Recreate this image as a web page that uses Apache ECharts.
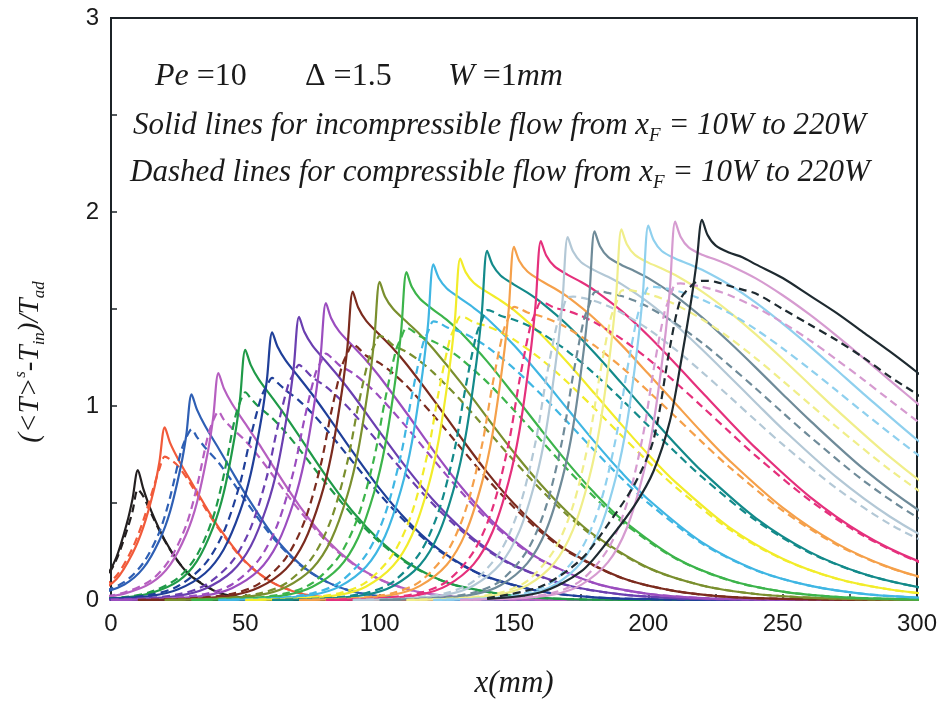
<!DOCTYPE html>
<html>
<head>
<meta charset="utf-8">
<script src="https://cdn.jsdelivr.net/npm/echarts/dist/echarts.min.js"></script>
<style>html,body{margin:0;padding:0;background:#fff}#c{width:942px;height:704px}</style>
</head>
<body>
<div id="c"></div>
<script>
// x offsets (mm) relative to each flame position x_F
const offsets = [-80,-60,-45,-35,-25,-18,-12,-8,-4,-2,0,2,5,10,15,20,30,40,50,60,70,80,100,120,140,160,180,200,240,290];
const flamePositions = [10,20,30,40,50,60,70,80,90,100,110,120,130,140,150,160,170,180,190,200,210,220];
const lineColors = ['#231f20','#f15a3a','#2e5fb4','#b65fc0','#1f9a48','#1f3f99','#6a3fb0','#9b4dbf','#7b2b1e','#7a8f2e','#3cb44b','#3fb6e3','#f2ec2a','#138a8a','#f5a04a','#e5307c','#b3c8d6','#6f8b99','#f0ee8a','#8fd0ee','#d69bd0','#1e2a30'];
const xTicks = [0,50,100,150,200,250,300];
const yTicks = [0,1,2,3];

// incompressible flow (solid lines)
const solid10  = [0,0,0,0.003,0.013,0.047,0.12,0.22,0.40,0.52,0.67,0.574,0.458,0.309,0.198,0.12,0.038,0.01,0.002,0,0,0,0,0,0,0,0,0,0,0];
const solid20  = [0,0,0.004,0.013,0.045,0.107,0.24,0.374,0.57,0.71,0.89,0.81,0.726,0.605,0.487,0.376,0.198,0.091,0.036,0.013,0.004,0.001,0,0,0,0,0,0,0,0];
const solid30  = [0,0.002,0.011,0.03,0.08,0.164,0.307,0.456,0.689,0.848,1.06,0.981,0.898,0.782,0.664,0.547,0.339,0.189,0.096,0.044,0.019,0.008,0.001,0,0,0,0,0,0,0];
const solid40  = [0,0.002,0.012,0.033,0.088,0.181,0.339,0.503,0.76,0.936,1.17,1.091,1.013,0.909,0.806,0.697,0.488,0.315,0.19,0.107,0.057,0.028,0.006,0.001,0,0,0,0,0,0];
const solid50  = [0,0.003,0.013,0.036,0.097,0.2,0.374,0.555,0.839,1.032,1.29,1.212,1.137,1.043,0.948,0.846,0.64,0.455,0.307,0.196,0.119,0.07,0.021,0.005,0.001,0,0,0,0,0];
const solid60  = [0,0.006,0.021,0.055,0.138,0.262,0.455,0.649,0.938,1.132,1.38,1.305,1.235,1.147,1.058,0.962,0.763,0.574,0.412,0.283,0.188,0.119,0.044,0.014,0.004,0.001,0,0,0,0];
const solid70  = [0,0.006,0.022,0.058,0.146,0.277,0.482,0.686,0.993,1.197,1.46,1.381,1.311,1.229,1.147,1.058,0.867,0.681,0.514,0.374,0.263,0.179,0.076,0.029,0.01,0.003,0.001,0,0,0];
const solid80  = [0,0.006,0.023,0.061,0.153,0.291,0.505,0.719,1.04,1.255,1.53,1.451,1.383,1.309,1.235,1.151,0.964,0.77,0.589,0.432,0.306,0.208,0.087,0.032,0.01,0.003,0.001,0,0,0];
const solid90  = [0,0.006,0.024,0.064,0.159,0.302,0.525,0.747,1.081,1.304,1.59,1.508,1.439,1.367,1.296,1.215,1.033,0.842,0.658,0.496,0.361,0.254,0.115,0.046,0.016,0.006,0.002,0,0,0];
const solid100 = [0,0.007,0.025,0.066,0.164,0.312,0.541,0.771,1.115,1.345,1.64,1.563,1.501,1.434,1.369,1.294,1.124,0.94,0.76,0.595,0.451,0.333,0.166,0.075,0.031,0.012,0.004,0.001,0,0];
const solid110 = [0,0.007,0.025,0.068,0.169,0.321,0.558,0.794,1.149,1.386,1.69,1.613,1.553,1.496,1.444,1.381,1.23,1.057,0.879,0.707,0.551,0.417,0.218,0.103,0.043,0.016,0.006,0.002,0,0];
const solid120 = [0,0.007,0.026,0.069,0.173,0.329,0.571,0.813,1.176,1.419,1.73,1.66,1.606,1.555,1.506,1.451,1.313,1.153,0.983,0.815,0.658,0.518,0.297,0.155,0.074,0.032,0.013,0.005,0,0];
const solid130 = [0,0.007,0.026,0.07,0.176,0.334,0.581,0.827,1.197,1.443,1.76,1.69,1.635,1.587,1.544,1.494,1.37,1.223,1.064,0.904,0.75,0.609,0.376,0.213,0.111,0.054,0.024,0.01,0.002,0];
const solid140 = [0,0.007,0.027,0.072,0.18,0.342,0.594,0.846,1.224,1.476,1.8,1.728,1.673,1.626,1.584,1.535,1.416,1.273,1.118,0.959,0.806,0.663,0.422,0.248,0.135,0.068,0.032,0.014,0.002,0];
const solid150 = [0,0.007,0.027,0.073,0.182,0.346,0.601,0.855,1.238,1.492,1.82,1.747,1.693,1.646,1.607,1.562,1.45,1.315,1.166,1.014,0.863,0.721,0.476,0.292,0.167,0.089,0.045,0.021,0.004,0];
const solid160 = [0,0.007,0.028,0.074,0.185,0.352,0.611,0.87,1.258,1.517,1.85,1.776,1.721,1.676,1.639,1.596,1.49,1.362,1.219,1.071,0.924,0.783,0.533,0.339,0.203,0.114,0.06,0.03,0.006,0.001];
const solid170 = [0,0.007,0.028,0.075,0.187,0.355,0.617,0.879,1.272,1.533,1.87,1.796,1.741,1.699,1.666,1.628,1.534,1.42,1.291,1.155,1.017,0.881,0.633,0.429,0.275,0.167,0.096,0.053,0.014,0.002];
const solid180 = [0,0.008,0.029,0.076,0.19,0.361,0.627,0.893,1.292,1.558,1.9,1.824,1.769,1.727,1.695,1.659,1.568,1.457,1.331,1.198,1.061,0.927,0.677,0.469,0.308,0.192,0.114,0.064,0.018,0.003];
const solid190 = [0,0.008,0.029,0.076,0.191,0.363,0.63,0.898,1.299,1.566,1.91,1.834,1.779,1.739,1.709,1.675,1.59,1.487,1.369,1.242,1.111,0.981,0.736,0.524,0.356,0.231,0.143,0.085,0.026,0.005];
const solid200 = [0,0.008,0.029,0.077,0.193,0.367,0.637,0.907,1.312,1.583,1.93,1.854,1.799,1.76,1.732,1.702,1.626,1.533,1.425,1.309,1.187,1.064,0.826,0.613,0.437,0.298,0.196,0.123,0.044,0.01];
const solid210 = [0,0.008,0.029,0.078,0.195,0.371,0.644,0.917,1.326,1.599,1.95,1.873,1.818,1.78,1.755,1.727,1.658,1.571,1.472,1.363,1.248,1.131,0.901,0.689,0.507,0.361,0.247,0.163,0.064,0.017];
const solid220 = [0.006,0.04,0.147,0.304,0.49,0.666,0.921,1.215,1.548,1.744,1.96,1.883,1.828,1.791,1.767,1.73,1.66,1.57,1.48,1.38,1.28,1.174,0.95,0.74,0.557,0.40,0.28,0.19,0.08,0.02];

// compressible flow (dashed lines)
const dashed10  = [0,0,0,0.003,0.012,0.044,0.114,0.208,0.362,0.456,0.57,0.535,0.445,0.305,0.198,0.122,0.04,0.011,0.002,0,0,0,0,0,0,0,0,0,0,0];
const dashed20  = [0,0,0.005,0.016,0.052,0.125,0.267,0.409,0.587,0.676,0.739,0.725,0.69,0.59,0.475,0.368,0.196,0.091,0.037,0.013,0.004,0.001,0,0,0,0,0,0,0,0];
const dashed30  = [0,0.003,0.013,0.035,0.093,0.191,0.35,0.53,0.763,0.837,0.88,0.84,0.786,0.709,0.614,0.513,0.326,0.185,0.095,0.044,0.019,0.008,0.001,0,0,0,0,0,0,0];
const dashed40  = [0,0.004,0.014,0.039,0.103,0.211,0.386,0.585,0.842,0.924,0.971,0.93,0.886,0.821,0.739,0.647,0.464,0.305,0.186,0.106,0.056,0.028,0.006,0.001,0,0,0,0,0,0];
const dashed50  = [0,0.004,0.015,0.043,0.114,0.232,0.426,0.645,0.929,1.019,1.071,1.04,0.996,0.938,0.864,0.779,0.602,0.436,0.298,0.192,0.118,0.069,0.021,0.005,0.001,0,0,0,0,0];
const dashed60  = [0.001,0.007,0.028,0.072,0.186,0.352,0.60,0.842,1.049,1.104,1.145,1.12,1.082,1.028,0.96,0.882,0.712,0.545,0.397,0.276,0.185,0.118,0.044,0.014,0.004,0.001,0,0,0,0];
const dashed70  = [0.001,0.007,0.029,0.076,0.197,0.372,0.635,0.891,1.11,1.168,1.212,1.19,1.148,1.10,1.038,0.966,0.805,0.643,0.492,0.362,0.257,0.176,0.075,0.029,0.01,0.003,0.001,0,0,0];
const dashed80  = [0.001,0.008,0.031,0.08,0.207,0.39,0.666,0.933,1.163,1.224,1.27,1.25,1.21,1.17,1.114,1.047,0.891,0.724,0.562,0.417,0.299,0.205,0.086,0.032,0.01,0.003,0.001,0,0,0];
const dashed90  = [0.001,0.008,0.032,0.083,0.215,0.405,0.692,0.97,1.208,1.272,1.32,1.30,1.259,1.221,1.168,1.104,0.952,0.788,0.625,0.477,0.351,0.249,0.114,0.046,0.016,0.006,0.002,0,0,0];
const dashed100 = [0.001,0.008,0.033,0.085,0.221,0.418,0.713,1.0,1.246,1.312,1.361,1.35,1.314,1.279,1.231,1.172,1.032,0.875,0.718,0.569,0.436,0.325,0.164,0.075,0.031,0.012,0.004,0.001,0,0];
const dashed110 = [0.001,0.008,0.034,0.088,0.228,0.431,0.735,1.031,1.284,1.352,1.403,1.39,1.359,1.333,1.295,1.246,1.123,0.978,0.824,0.672,0.529,0.405,0.215,0.102,0.043,0.016,0.006,0.002,0,0];
const dashed120 = [0.001,0.009,0.035,0.09,0.234,0.441,0.753,1.055,1.315,1.384,1.436,1.43,1.406,1.383,1.348,1.305,1.193,1.061,0.916,0.769,0.628,0.499,0.291,0.153,0.074,0.032,0.013,0.005,0,0];
const dashed130 = [0.001,0.009,0.035,0.092,0.238,0.449,0.766,1.074,1.338,1.408,1.461,1.455,1.432,1.411,1.381,1.342,1.242,1.121,0.987,0.848,0.712,0.584,0.366,0.21,0.11,0.054,0.024,0.01,0.002,0];
const dashed140 = [0.001,0.009,0.036,0.094,0.243,0.459,0.783,1.098,1.368,1.44,1.494,1.487,1.465,1.445,1.416,1.378,1.282,1.165,1.035,0.898,0.763,0.634,0.41,0.244,0.134,0.068,0.032,0.014,0.002,0];
const dashed150 = [0.001,0.009,0.036,0.095,0.246,0.464,0.792,1.11,1.383,1.456,1.511,1.503,1.482,1.463,1.436,1.401,1.311,1.201,1.076,0.946,0.814,0.687,0.461,0.286,0.165,0.088,0.045,0.021,0.004,0];
const dashed160 = [0.001,0.009,0.037,0.096,0.25,0.472,0.805,1.129,1.406,1.48,1.536,1.528,1.507,1.49,1.464,1.431,1.346,1.242,1.123,0.997,0.869,0.743,0.515,0.332,0.2,0.113,0.06,0.03,0.006,0.001];
const dashed170 = [0.001,0.009,0.037,0.097,0.252,0.477,0.813,1.141,1.421,1.496,1.561,1.564,1.559,1.541,1.515,1.481,1.396,1.292,1.175,1.051,0.925,0.802,0.576,0.39,0.257,0.16,0.094,0.052,0.014,0.002];
const dashed180 = [0.001,0.01,0.038,0.099,0.257,0.485,0.827,1.159,1.444,1.52,1.587,1.59,1.583,1.567,1.542,1.51,1.427,1.326,1.211,1.09,0.966,0.844,0.616,0.427,0.286,0.183,0.111,0.063,0.018,0.003];
const dashed190 = [0.001,0.01,0.038,0.099,0.258,0.487,0.831,1.165,1.452,1.528,1.595,1.598,1.593,1.577,1.554,1.524,1.447,1.353,1.246,1.13,1.011,0.893,0.67,0.477,0.324,0.21,0.138,0.083,0.026,0.005];
const dashed200 = [0.001,0.01,0.039,0.1,0.261,0.492,0.84,1.177,1.467,1.544,1.612,1.614,1.61,1.596,1.575,1.549,1.48,1.395,1.297,1.191,1.08,0.968,0.752,0.558,0.398,0.271,0.187,0.119,0.043,0.01];
const dashed210 = [0.001,0.01,0.039,0.101,0.263,0.497,0.848,1.19,1.482,1.56,1.628,1.632,1.627,1.615,1.596,1.572,1.509,1.43,1.34,1.24,1.136,1.029,0.82,0.627,0.461,0.329,0.225,0.157,0.063,0.017];
const dashed220 = [0.01,0.07,0.21,0.39,0.60,0.83,1.30,1.55,1.62,1.64,1.645,1.645,1.64,1.62,1.60,1.58,1.50,1.42,1.34,1.25,1.15,1.06,0.86,0.66,0.50,0.36,0.25,0.17,0.07,0.02];

const solidSets = [solid10,solid20,solid30,solid40,solid50,solid60,solid70,solid80,solid90,solid100,solid110,solid120,solid130,solid140,solid150,solid160,solid170,solid180,solid190,solid200,solid210,solid220];
const dashedSets = [dashed10,dashed20,dashed30,dashed40,dashed50,dashed60,dashed70,dashed80,dashed90,dashed100,dashed110,dashed120,dashed130,dashed140,dashed150,dashed160,dashed170,dashed180,dashed190,dashed200,dashed210,dashed220];

const series = [];
flamePositions.forEach(function (xf, k) {
  const base = {type: 'line', showSymbol: false, symbol: 'none', smooth: 0.3, clip: true, silent: true, animation: false};
  series.push(Object.assign({}, base, {
    name: 'incompressible x_F=' + xf,
    data: offsets.map(function (o, i) { return [xf + o, solidSets[k][i]]; }),
    lineStyle: {color: lineColors[k], width: 2.2, type: 'solid', join: 'round'}
  }));
  series.push(Object.assign({}, base, {
    name: 'compressible x_F=' + xf,
    data: offsets.map(function (o, i) { return [xf + o, dashedSets[k][i]]; }),
    lineStyle: {color: lineColors[k], width: 2.2, type: [8, 5], join: 'round'}
  }));
});

const serif = '"Liberation Serif", "Times New Roman", serif';
const sans = '"Liberation Sans", Arial, sans-serif';
const ink = '#1a1a1a';

function seg(x, txt, rich) {
  return {type: 'text', left: x, top: 61, z: 100, style: {text: txt, fill: ink, fontFamily: serif, fontSize: 32, rich: rich}};
}
const r1 = {
  i: {fontFamily: serif, fontStyle: 'italic', fontSize: 32, fill: ink},
  n: {fontFamily: serif, fontSize: 32, fill: ink}
};
const rLine = {
  t: {fontFamily: serif, fontStyle: 'italic', fontSize: 31, lineHeight: 40, fill: ink},
  s: {fontFamily: serif, fontStyle: 'italic', fontSize: 19, lineHeight: 22, verticalAlign: 'bottom', fill: ink}
};

const chart = echarts.init(document.getElementById('c'), null, {renderer: 'canvas'});
chart.setOption({
  animation: false,
  backgroundColor: '#fff',
  grid: {left: 111, right: 25, top: 18, bottom: 91, show: true, borderColor: '#1c2327', borderWidth: 2, backgroundColor: 'transparent'},
  xAxis: {
    type: 'value', min: 0, max: 300, interval: 25,
    axisLine: {show: true, lineStyle: {color: '#1c2327', width: 2}},
    axisTick: {show: true, inside: true, length: 6, lineStyle: {color: '#1c2327', width: 1.5}},
    splitLine: {show: false},
    axisLabel: {color: ink, fontFamily: sans, fontSize: 24, margin: 12,
      formatter: function (v) { return xTicks.indexOf(v) >= 0 ? String(v) : ''; }},
    name: 'x(mm)', nameLocation: 'middle', nameGap: 68,
    nameTextStyle: {fontFamily: serif, fontStyle: 'italic', fontSize: 31, color: ink}
  },
  yAxis: {
    type: 'value', min: 0, max: 3, interval: 0.5,
    axisLine: {show: true, lineStyle: {color: '#1c2327', width: 2}},
    axisTick: {show: true, inside: true, length: 6, lineStyle: {color: '#1c2327', width: 1.5}},
    splitLine: {show: false},
    axisLabel: {color: ink, fontFamily: sans, fontSize: 24, margin: 12,
      formatter: function (v) { return yTicks.indexOf(v) >= 0 ? String(v) : ''; }}
  },
  graphic: [
    seg(155, '{i|Pe} {n|=10}', r1),
    seg(305, '{n|Δ =1.5}', r1),
    seg(448, '{i|W} {n|=1}{i|mm}', r1),
    {type: 'text', left: 133, top: 110, z: 100, style: {
      text: '{t|Solid lines for incompressible flow from x}{s|F}{t| = 10W to 220W}',
      fill: ink, fontFamily: serif, fontSize: 31, rich: rLine}},
    {type: 'text', left: 130, top: 157, z: 100, style: {
      text: '{t|Dashed lines for compressible flow from x}{s|F}{t| = 10W to 220W}',
      fill: ink, fontFamily: serif, fontSize: 31, rich: rLine}},
    {type: 'text', x: 30, y: 362, rotation: Math.PI / 2, z: 100, style: {
      text: '{m|(<T>}{sup|s}{m|-T}{sub|in}{m|)/T}{sub|ad}',
      align: 'center', verticalAlign: 'middle', fill: ink, fontFamily: serif, fontSize: 29,
      rich: {
        m: {fontFamily: serif, fontStyle: 'italic', fontSize: 29, lineHeight: 36, fill: ink},
        sup: {fontFamily: serif, fontStyle: 'italic', fontSize: 17, lineHeight: 18, verticalAlign: 'top', fill: ink},
        sub: {fontFamily: serif, fontStyle: 'italic', fontSize: 17, lineHeight: 18, verticalAlign: 'bottom', fill: ink}
      }}}
  ],
  series: series
});
</script>
</body>
</html>
